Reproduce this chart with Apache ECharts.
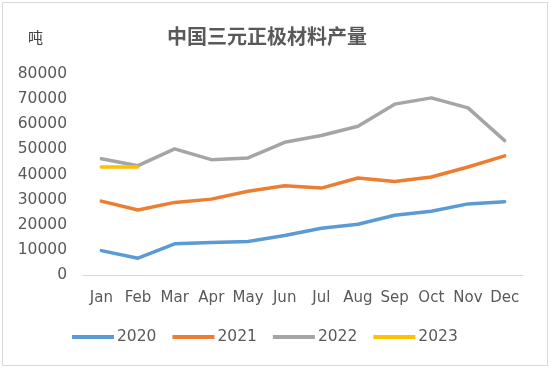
<!DOCTYPE html>
<html><head><meta charset="utf-8">
<script src="https://cdn.jsdelivr.net/npm/echarts@6/dist/echarts.min.js"></script>
<style>html,body{margin:0;padding:0;background:#fff}#c{width:550px;height:368px}</style>
</head><body><div id="c"></div>
<script>
var months = ['Jan','Feb','Mar','Apr','May','Jun','Jul','Aug','Sep','Oct','Nov','Dec'];
var s2020 = [9700, 6700, 12400, 12900, 13300, 15700, 18600, 20200, 23800, 25400, 28300, 29200];
var s2021 = [29400, 25900, 28900, 30200, 33300, 35500, 34600, 38600, 37200, 39000, 43000, 47400];
var s2022 = [46300, 43500, 50200, 45900, 46600, 52800, 55500, 59200, 68000, 70500, 66500, 53500];
var s2023 = [43000, 43000];
var yTicks = [0, 10000, 20000, 30000, 40000, 50000, 60000, 70000, 80000];
var chart = echarts.init(document.getElementById('c'));
var font = 'DejaVu Sans';
function ser(name, data, color) {
  return {name: name, type: 'line', data: data, symbol: 'none', smooth: false,
    lineStyle: {width: 3.5, color: color, cap: 'round', join: 'round'}, itemStyle: {color: color}};
}
chart.setOption({
  animation: false,
  backgroundColor: '#fff',
  graphic: [{type: 'rect', shape: {x: 2.5, y: 2.5, width: 545, height: 363}, style: {fill: 'none', stroke: '#d9d9d9', lineWidth: 1}},
    {type: 'text', left: 28, top: 30, style: {text: '吨', font: '15px "Noto Sans CJK SC"', fill: '#404040'}}],
  title: {text: '中国三元正极材料产量', left: 262, textAlign: 'center', top: 21,
    textStyle: {fontFamily: 'Noto Sans CJK SC', fontSize: 20, fontWeight: 'bold', color: '#595959'}},
  grid: {left: 83, right: 27, top: 74, bottom: 93},
  xAxis: {type: 'category', data: months, boundaryGap: true,
    axisLine: {lineStyle: {color: '#d9d9d9', width: 1}}, axisTick: {show: false},
    axisLabel: {fontFamily: font, fontSize: 15, color: '#595959', margin: 16, interval: 0}},
  yAxis: {type: 'value', min: 0, max: 80000, interval: 10000,
    axisLine: {show: false}, axisTick: {show: false}, splitLine: {show: false},
    axisLabel: {fontFamily: font, fontSize: 15.5, color: '#595959', margin: 16,
      formatter: function (v) { return yTicks.indexOf(v) >= 0 ? String(v) : ''; }}},
  legend: {data: ['2020','2021','2022','2023'], left: 67, top: 324, icon: 'rect', itemWidth: 42, itemHeight: 4,
    itemGap: 16, textStyle: {fontFamily: font, fontSize: 15.5, color: '#595959', padding: [0,0,0,-2]}},
  series: [ser('2020', s2020, '#5b9bd5'), ser('2021', s2021, '#ed7d31'), ser('2022', s2022, '#a5a5a5'), ser('2023', s2023, '#ffc000')]
});
</script></body></html>
